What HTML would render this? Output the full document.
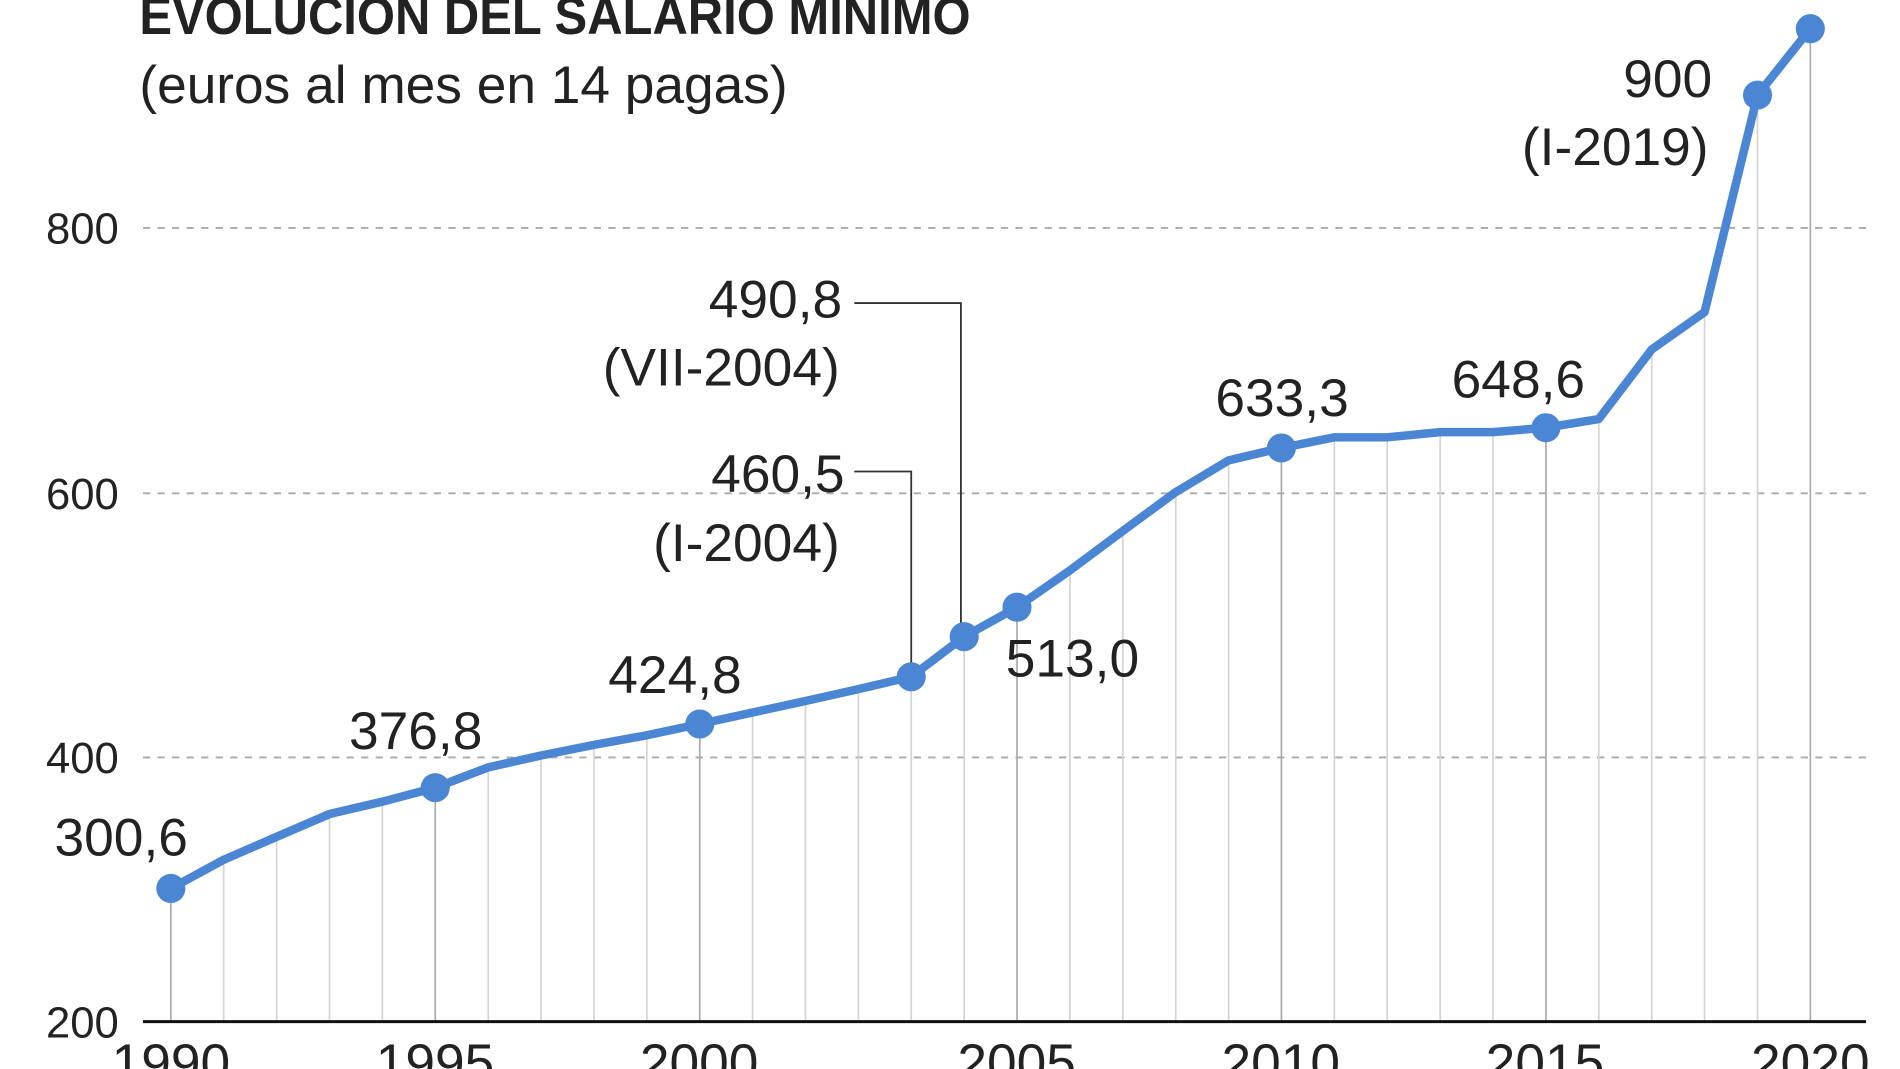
<!DOCTYPE html>
<html><head><meta charset="utf-8"><style>
html,body{margin:0;padding:0;background:#fff;width:1900px;height:1069px;overflow:hidden}
svg{display:block}
text{font-family:"Liberation Sans Narrow","Liberation Sans",sans-serif;fill:#222}
</style></head><body>
<svg width="1900" height="1069" viewBox="0 0 1568 882" xmlns="http://www.w3.org/2000/svg">
<rect width="1568" height="882" fill="#fff"/>
<text x="115" y="28" font-size="44" font-weight="bold" textLength="686" lengthAdjust="spacingAndGlyphs">EVOLUCIÓN DEL SALARIO MÍNIMO</text>
<text x="115" y="85" font-size="44" textLength="535" lengthAdjust="spacingAndGlyphs">(euros al mes en 14 pagas)</text>
<g stroke="#aaa" stroke-width="1.6" stroke-dasharray="6,6">
<line x1="118" y1="188" x2="1540" y2="188"/>
<line x1="118" y1="407" x2="1540" y2="407"/>
<line x1="118" y1="625" x2="1540" y2="625"/>
</g>
<g font-size="36" text-anchor="end">
<text x="98" y="201">800</text><text x="98" y="420">600</text><text x="98" y="638">400</text><text x="98" y="856">200</text>
</g>
<g stroke-width="1.4" stroke="#d4d4d4">
<line x1="184.6" y1="709.4" x2="184.6" y2="843"/>
<line x1="228.3" y1="690.5" x2="228.3" y2="843"/>
<line x1="271.9" y1="671.7" x2="271.9" y2="843"/>
<line x1="315.6" y1="661.5" x2="315.6" y2="843"/>
<line x1="402.9" y1="633.2" x2="402.9" y2="843"/>
<line x1="446.5" y1="623.4" x2="446.5" y2="843"/>
<line x1="490.2" y1="614.6" x2="490.2" y2="843"/>
<line x1="533.8" y1="606.7" x2="533.8" y2="843"/>
<line x1="621.1" y1="587.9" x2="621.1" y2="843"/>
<line x1="664.7" y1="578.4" x2="664.7" y2="843"/>
<line x1="708.4" y1="568.6" x2="708.4" y2="843"/>
<line x1="752.0" y1="558.4" x2="752.0" y2="843"/>
<line x1="795.7" y1="525.3" x2="795.7" y2="843"/>
<line x1="883.0" y1="470.6" x2="883.0" y2="843"/>
<line x1="926.6" y1="438.1" x2="926.6" y2="843"/>
<line x1="970.3" y1="406.0" x2="970.3" y2="843"/>
<line x1="1013.9" y1="379.8" x2="1013.9" y2="843"/>
<line x1="1101.2" y1="360.8" x2="1101.2" y2="843"/>
<line x1="1144.8" y1="360.8" x2="1144.8" y2="843"/>
<line x1="1188.5" y1="356.5" x2="1188.5" y2="843"/>
<line x1="1232.1" y1="356.5" x2="1232.1" y2="843"/>
<line x1="1319.4" y1="345.7" x2="1319.4" y2="843"/>
<line x1="1363.1" y1="288.3" x2="1363.1" y2="843"/>
<line x1="1406.7" y1="257.5" x2="1406.7" y2="843"/>
<line x1="1450.4" y1="78.4" x2="1450.4" y2="843"/>
</g>
<g stroke-width="1.4" stroke="#aaa">
<line x1="141" y1="733.1" x2="141" y2="843"/>
<line x1="359.2" y1="649.9" x2="359.2" y2="843"/>
<line x1="577.5" y1="597.4" x2="577.5" y2="843"/>
<line x1="839.3" y1="501.0" x2="839.3" y2="843"/>
<line x1="1057.5" y1="369.6" x2="1057.5" y2="843"/>
<line x1="1275.8" y1="352.9" x2="1275.8" y2="843"/>
<line x1="1494" y1="23.6" x2="1494" y2="843"/>
</g>
<line x1="118" y1="843" x2="1540" y2="843" stroke="#111" stroke-width="2.5"/>
<g font-size="44" text-anchor="middle">
<text x="141" y="892">1990</text><text x="359" y="892">1995</text><text x="577" y="892">2000</text><text x="839" y="892">2005</text><text x="1057" y="892">2010</text><text x="1275" y="892">2015</text><text x="1494" y="892">2020</text>
</g>
<polyline points="705,250 793,250 793,520" fill="none" stroke="#333" stroke-width="1.5"/>
<polyline points="705,389 752,389 752,555" fill="none" stroke="#333" stroke-width="1.5"/>
<polyline fill="none" stroke="#4a86d4" stroke-width="7" stroke-linejoin="round" stroke-linecap="round" points="141,733.1 184.6,709.4 228.3,690.5 271.9,671.7 315.6,661.5 359.2,649.9 402.9,633.2 446.5,623.4 490.2,614.6 533.8,606.7 577.5,597.4 621.1,587.9 664.7,578.4 708.4,568.6 752,558.4 795.7,525.3 839.3,501 883,470.6 926.6,438.1 970.3,406 1013.9,379.8 1057.5,369.6 1101.2,360.8 1144.8,360.8 1188.5,356.5 1232.1,356.5 1275.8,352.9 1319.4,345.7 1363.1,288.3 1406.7,257.5 1450.4,78.4 1494,23.6"/>
<g fill="#4a86d4">
<circle cx="141" cy="733.1" r="12"/>
<circle cx="359.2" cy="649.9" r="12"/>
<circle cx="577.5" cy="597.4" r="12"/>
<circle cx="752" cy="558.4" r="12"/>
<circle cx="795.7" cy="525.3" r="12"/>
<circle cx="839.3" cy="501" r="12"/>
<circle cx="1057.5" cy="369.6" r="12"/>
<circle cx="1275.8" cy="352.9" r="12"/>
<circle cx="1450.4" cy="78.4" r="12"/>
<circle cx="1494" cy="23.6" r="12"/>
</g>
<g font-size="44">
<text x="45" y="706">300,6</text>
<text x="288" y="618">376,8</text>
<text x="502" y="572">424,8</text>
<text x="830" y="558">513,0</text>
<text x="1003" y="343">633,3</text>
<text x="1198" y="328">648,6</text>
</g>
<g font-size="44" text-anchor="end">
<text x="695" y="262">490,8</text>
<text x="693" y="318">(VII-2004)</text>
<text x="697" y="406">460,5</text>
<text x="693" y="463">(I-2004)</text>
<text x="1413" y="80">900</text>
<text x="1410" y="136">(I-2019)</text>
</g>
</svg>
</body></html>
